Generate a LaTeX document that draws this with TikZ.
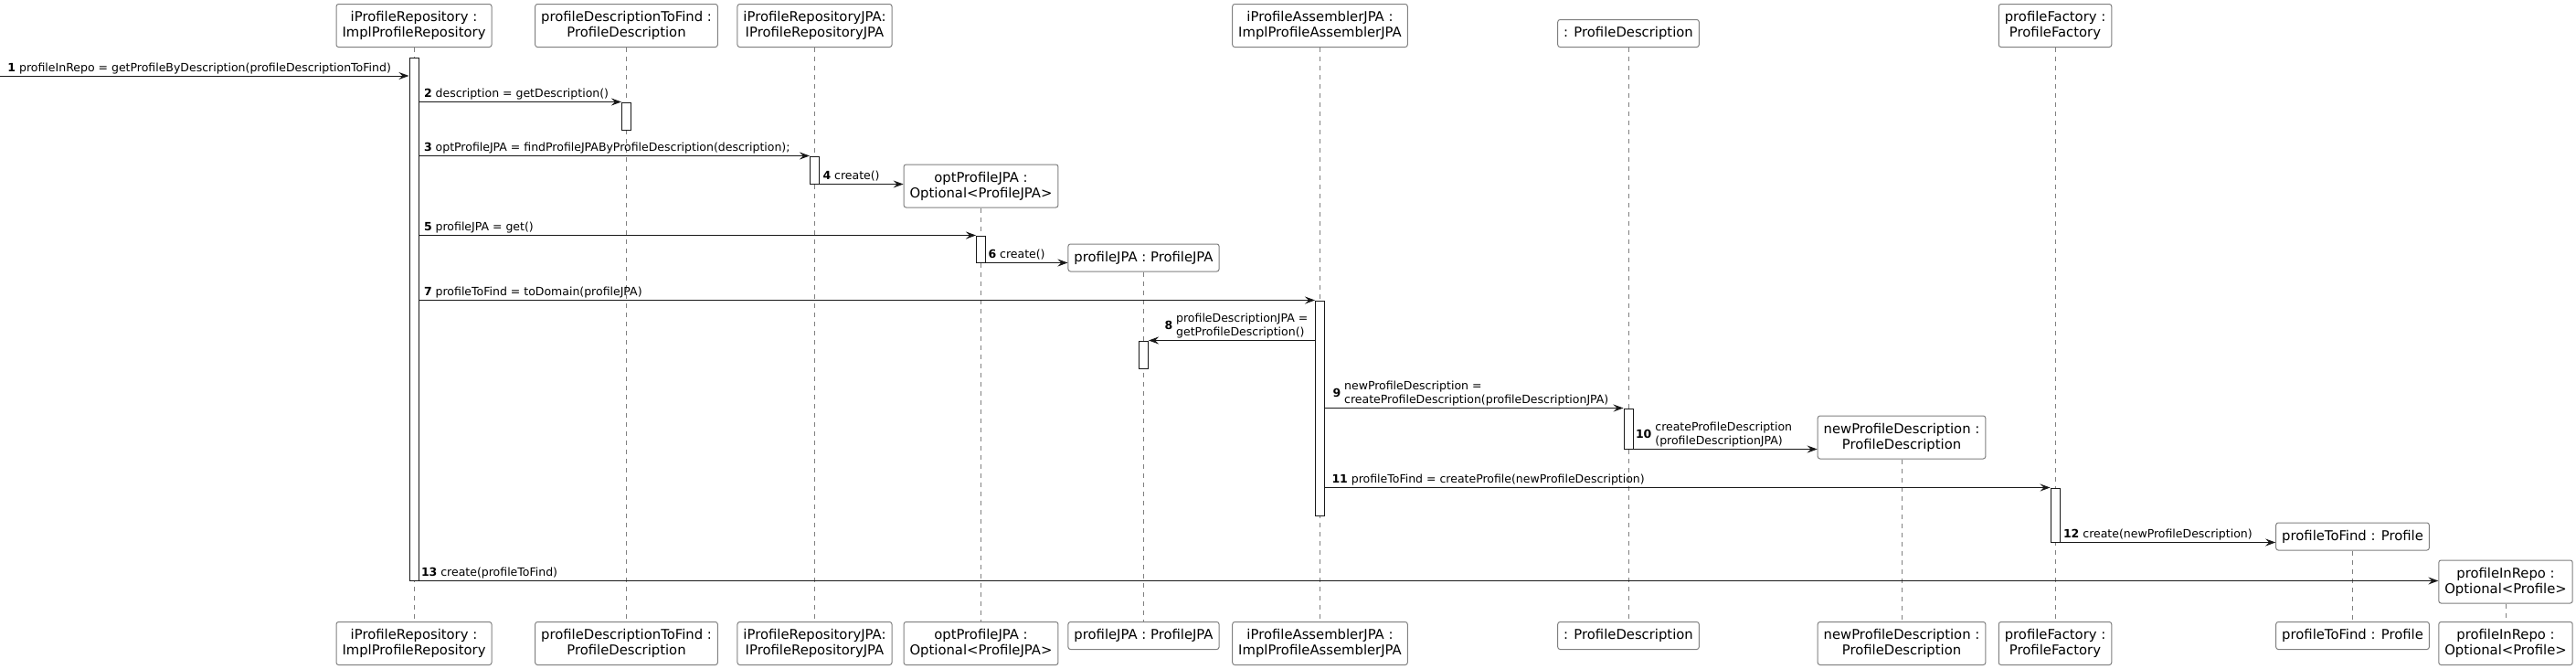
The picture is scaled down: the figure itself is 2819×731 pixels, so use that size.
\documentclass[tikz,border=0pt]{standalone}
\usepackage{fontspec}
\setmainfont{DejaVu Sans}
\usetikzlibrary{arrows.meta}
\newcommand{\msgtxt}[2]{\textbf{#1} \begin{tabular}{@{}l@{}}#2\end{tabular}}

\begin{document}
\begin{tikzpicture}[x=1pt, y=-1pt,
	part/.style={draw=black!50, line width=1pt, fill=white, rounded corners=2.5pt, align=center, inner xsep=6.5pt, inner ysep=2pt, minimum height=30pt, font=\fontsize{14.8}{17}\selectfont},
	twoline/.style={minimum height=47pt},
	life/.style={draw=black!50, line width=0.9pt, dash pattern=on 5pt off 5pt},
	bar/.style={draw=black!90, fill=white, line width=1pt, minimum width=10pt, inner sep=0pt},
	msg/.style={draw=black!90, line width=1pt, -{Stealth[length=11pt,width=8pt,inset=4pt]}},
	lbl/.style={anchor=south west, inner sep=0pt, font=\fontsize{12.5}{15}\selectfont}]% {{{ getProfileByDescription
	\useasboundingbox (0,0) rectangle (2819,731);

	% participants, top and bottom
	\node[part, twoline, anchor=south] (repoTop) at (453,52) {iProfileRepository :\\ImplProfileRepository};
	\node[part, twoline, anchor=south] (findTop) at (685.5,52) {profileDescriptionToFind :\\ProfileDescription};
	\node[part, twoline, anchor=south] (jpaTop) at (891.5,52) {iProfileRepositoryJPA:\\IProfileRepositoryJPA};
	\node[part, twoline] (optTop) at (1073.5,203.5) {optProfileJPA :\\Optional<ProfileJPA>};
	\node[part] (pjpaTop) at (1251.5,282) {profileJPA : ProfileJPA};
	\node[part, twoline, anchor=south] (asmTop) at (1444.5,52) {iProfileAssemblerJPA :\\ImplProfileAssemblerJPA};
	\node[part, anchor=south] (descTop) at (1782,52) {: ProfileDescription};
	\node[part, twoline] (newDescTop) at (2081,478.5) {newProfileDescription :\\ProfileDescription};
	\node[part, twoline, anchor=south] (facTop) at (2249,52) {profileFactory :\\ProfileFactory};
	\node[part] (toFindTop) at (2574.5,587) {profileToFind : Profile};
	\node[part, twoline] (inRepoTop) at (2742,636.5) {profileInRepo :\\Optional<Profile>};

	\node[part, twoline, anchor=north] (repoBot) at (453,680) {iProfileRepository :\\ImplProfileRepository};
	\node[part, twoline, anchor=north] (findBot) at (685.5,680) {profileDescriptionToFind :\\ProfileDescription};
	\node[part, twoline, anchor=north] (jpaBot) at (891.5,680) {iProfileRepositoryJPA:\\IProfileRepositoryJPA};
	\node[part, twoline, anchor=north] (optBot) at (1073.5,680) {optProfileJPA :\\Optional<ProfileJPA>};
	\node[part, anchor=north] (pjpaBot) at (1251.5,680) {profileJPA : ProfileJPA};
	\node[part, twoline, anchor=north] (asmBot) at (1444.5,680) {iProfileAssemblerJPA :\\ImplProfileAssemblerJPA};
	\node[part, anchor=north] (descBot) at (1782,680) {: ProfileDescription};
	\node[part, twoline, anchor=north] (newDescBot) at (2081,680) {newProfileDescription :\\ProfileDescription};
	\node[part, twoline, anchor=north] (facBot) at (2249,680) {profileFactory :\\ProfileFactory};
	\node[part, anchor=north] (toFindBot) at (2574.5,680) {profileToFind : Profile};
	\node[part, twoline, anchor=north] (inRepoBot) at (2742,680) {profileInRepo :\\Optional<Profile>};

	% lifelines
	\draw[life] (repoTop) -- (repoBot);
	\draw[life] (findTop) -- (findBot);
	\draw[life] (jpaTop) -- (jpaBot);
	\draw[life] (optTop) -- (optBot);
	\draw[life] (pjpaTop) -- (pjpaBot);
	\draw[life] (asmTop) -- (asmBot);
	\draw[life] (descTop) -- (descBot);
	\draw[life] (newDescTop) -- (newDescBot);
	\draw[life] (facTop) -- (facBot);
	\draw[life] (toFindTop) -- (toFindBot);
	\draw[life] (inRepoTop) -- (inRepoBot);

	% activations
	\node[bar, minimum height=572pt] (actRepo) at (453,349) {};
	\node[bar, minimum height=30pt] (actFind) at (685.5,127) {};
	\node[bar, minimum height=30pt] (actJPA) at (891.5,186) {};
	\node[bar, minimum height=29pt] (actOpt) at (1073.5,272.5) {};
	\node[bar, minimum height=30pt] (actPJ) at (1251.5,388) {};
	\node[bar, minimum height=235pt] (actAsm) at (1444.5,446.5) {};
	\node[bar, minimum height=44pt] (actDesc) at (1782,469) {};
	\node[bar, minimum height=59pt] (actFac) at (2249,563.5) {};

	% messages
	\coordinate (src) at (0,83);
	\draw[msg] (src) -- (src -| actRepo.west) node[lbl, at start, xshift=8pt] (l1) {\msgtxt{1}{profileInRepo = getProfileByDescription(profileDescriptionToFind)}};
	\draw[msg] (actRepo.east |- actFind.north west) -- (actFind.north west) node[lbl, at start, xshift=5pt] (l2) {\msgtxt{2}{description = getDescription()}};
	\draw[msg] (actRepo.east |- actJPA.north west) -- (actJPA.north west) node[lbl, at start, xshift=5pt] (l3) {\msgtxt{3}{optProfileJPA = findProfileJPAByProfileDescription(description);}};
	\draw[msg] (actJPA.south east) -- (actJPA.south east -| optTop.west) node[lbl, at start, xshift=3pt] (l4) {\msgtxt{4}{create()}};
	\draw[msg] (actRepo.east |- actOpt.north west) -- (actOpt.north west) node[lbl, at start, xshift=5pt] (l5) {\msgtxt{5}{profileJPA = get()}};
	\draw[msg] (actOpt.south east) -- (actOpt.south east -| pjpaTop.west) node[lbl, at start, xshift=2pt] (l6) {\msgtxt{6}{create()}};
	\draw[msg] (actRepo.east |- actAsm.north west) -- (actAsm.north west) node[lbl, at start, xshift=5pt] (l7) {\msgtxt{7}{profileToFind = toDomain(profileJPA)}};
	\draw[msg] (actAsm.west |- actPJ.north east) -- (actPJ.north east) node[lbl, at end, xshift=17pt] (l8) {\msgtxt{8}{profileDescriptionJPA =\\getProfileDescription()}};
	\draw[msg] (actAsm.east |- actDesc.north west) -- (actDesc.north west) node[lbl, at start, xshift=8pt] (l9) {\msgtxt{9}{newProfileDescription =\\createProfileDescription(profileDescriptionJPA)}};
	\draw[msg] (actDesc.south east) -- (actDesc.south east -| newDescTop.west) node[lbl, at start, xshift=2pt] (l10) {\msgtxt{10}{createProfileDescription\\(profileDescriptionJPA)}};
	\draw[msg] (actAsm.east |- actFac.north west) -- (actFac.north west) node[lbl, at start, xshift=7pt] (l11) {\msgtxt{11}{profileToFind = createProfile(newProfileDescription)}};
	\draw[msg] (actFac.south east) -- (actFac.south east -| toFindTop.west) node[lbl, at start, xshift=3pt] (l12) {\msgtxt{12}{create(newProfileDescription)}};
	\draw[msg] (actRepo.south east) -- (actRepo.south east -| inRepoTop.west) node[lbl, at start, xshift=2pt] (l13) {\msgtxt{13}{create(profileToFind)}};
\end{tikzpicture}
\end{document}
